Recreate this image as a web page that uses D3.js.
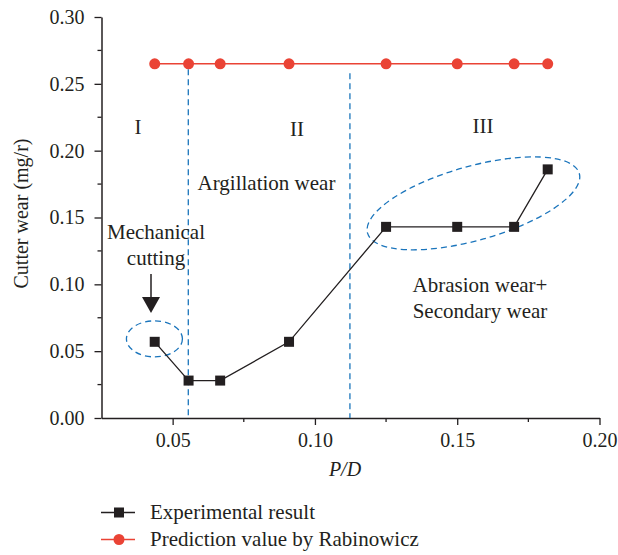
<!DOCTYPE html>
<html>
<head>
<meta charset="utf-8">
<script src="https://cdn.jsdelivr.net/npm/d3@7"></script>
<style>
  body { margin: 0; background: #fff; }
  text { font-family: 'Liberation Serif', 'DejaVu Serif', serif; fill: #231f20; }
</style>
</head>
<body>
<div id="chart"></div>
<script>
// data
const pdValues = [0.0437, 0.0556, 0.0667, 0.0909, 0.125, 0.15, 0.17, 0.1818];
const experimental = [0.057, 0.028, 0.028, 0.057, 0.143, 0.143, 0.143, 0.186];
const rabinowicz = [0.265, 0.265, 0.265, 0.265, 0.265, 0.265, 0.265, 0.265];
const xTicks = [0.05, 0.10, 0.15, 0.20];
const xMinor = [0.075, 0.125, 0.175];
const yTicks = [0.00, 0.05, 0.10, 0.15, 0.20, 0.25, 0.30];
const yMinor = [0.025, 0.075, 0.125, 0.175, 0.225, 0.275];
const stageBounds = [0.0555, 0.1123];

const width = 618;
const height = 555;

const svg = d3.select('#chart')
  .append('svg')
    .attr('width', width)
    .attr('height', height);

const xScale = d3.scaleLinear()
  .domain([0.025, 0.2])
  .range([101.5, 599.5]);

const yScale = d3.scaleLinear()
  .domain([0, 0.3])
  .range([418, 17]);

const ink = '#231f20';
const red = '#ea4335';
const blue = '#1b75bc';

//
// Axes
//
const xAxis = d3.axisBottom(xScale)
  .tickValues(xTicks)
  .tickSize(7)
  .tickSizeOuter(0)
  .tickPadding(8)
  .tickFormat(d3.format('.2f'));

const yAxis = d3.axisLeft(yScale)
  .tickValues(yTicks)
  .tickSize(7)
  .tickSizeOuter(0)
  .tickPadding(10)
  .tickFormat(d3.format('.2f'));

const gx = svg.append('g')
  .attr('class', 'x axis')
  .attr('transform', `translate(0, ${yScale(0)})`)
  .call(xAxis);

const gy = svg.append('g')
  .attr('class', 'y axis')
  .attr('transform', `translate(${xScale(0.025)}, 0)`)
  .call(yAxis);

[gx, gy].forEach(g => {
  g.select('.domain').attr('stroke', ink).attr('stroke-width', 1.5);
  g.selectAll('.tick line').attr('stroke', ink).attr('stroke-width', 1.3);
  g.selectAll('.tick text')
    .style('font-family', "'Liberation Serif', serif")
    .style('font-size', '20px')
    .attr('fill', ink);
});

// minor ticks
svg.append('g').selectAll('line')
  .data(xMinor)
  .enter().append('line')
    .attr('x1', d => xScale(d)).attr('x2', d => xScale(d))
    .attr('y1', yScale(0)).attr('y2', yScale(0) + 4)
    .attr('stroke', ink).attr('stroke-width', 1.3);

svg.append('g').selectAll('line')
  .data(yMinor)
  .enter().append('line')
    .attr('x1', xScale(0.025)).attr('x2', xScale(0.025) - 4)
    .attr('y1', d => yScale(d)).attr('y2', d => yScale(d))
    .attr('stroke', ink).attr('stroke-width', 1.3);

// axis titles
svg.append('text')
  .attr('text-anchor', 'middle')
  .attr('transform', `translate(28, 213.5) rotate(-90)`)
  .style('font-size', '20px')
  .text('Cutter wear (mg/r)');

svg.append('text')
  .attr('text-anchor', 'middle')
  .attr('x', 345)
  .attr('y', 476)
  .style('font-size', '20px')
  .style('font-style', 'italic')
  .text('P/D');

//
// Stage boundaries
//
svg.append('g').selectAll('line')
  .data(stageBounds)
  .enter().append('line')
    .attr('x1', d => xScale(d)).attr('x2', d => xScale(d))
    .attr('y1', (d, i) => yScale(i === 0 ? 0.261 : 0.258))
    .attr('y2', yScale(0))
    .attr('stroke', blue)
    .attr('stroke-width', 1.3)
    .attr('stroke-dasharray', '6,4');

//
// Ellipses
//
svg.append('ellipse')
  .attr('cx', xScale(0.0436))
  .attr('cy', yScale(0.0592))
  .attr('rx', 28)
  .attr('ry', 18)
  .attr('fill', 'none')
  .attr('stroke', blue)
  .attr('stroke-width', 1.3)
  .attr('stroke-dasharray', '6,4');

svg.append('ellipse')
  .attr('transform', `translate(${xScale(0.1557)}, ${yScale(0.1606)}) rotate(-15.75)`)
  .attr('rx', 110)
  .attr('ry', 37)
  .attr('fill', 'none')
  .attr('stroke', blue)
  .attr('stroke-width', 1.3)
  .attr('stroke-dasharray', '6,4');

//
// Series
//
const line = d3.line()
  .x(d => xScale(d[0]))
  .y(d => yScale(d[1]));

const redData = pdValues.map((d, i) => [d, rabinowicz[i]]);
const blackData = pdValues.map((d, i) => [d, experimental[i]]);

svg.append('path')
  .datum(redData)
  .attr('d', line)
  .attr('fill', 'none')
  .attr('stroke', red)
  .attr('stroke-width', 1.5);

svg.append('g').selectAll('circle')
  .data(redData)
  .enter().append('circle')
    .attr('cx', d => xScale(d[0]))
    .attr('cy', d => yScale(d[1]))
    .attr('r', 5.5)
    .attr('fill', red);

svg.append('path')
  .datum(blackData)
  .attr('d', line)
  .attr('fill', 'none')
  .attr('stroke', ink)
  .attr('stroke-width', 1.3);

svg.append('g').selectAll('rect')
  .data(blackData)
  .enter().append('rect')
    .attr('x', d => xScale(d[0]) - 5)
    .attr('y', d => yScale(d[1]) - 5)
    .attr('width', 10)
    .attr('height', 10)
    .attr('fill', ink);

//
// Labels
//
const labels = [
  { t: 'I', x: 138, y: 134 },
  { t: 'II', x: 297, y: 136 },
  { t: 'III', x: 483, y: 133 },
  { t: 'Argillation wear', x: 266.5, y: 190 },
  { t: 'Mechanical', x: 156, y: 239 },
  { t: 'cutting', x: 156, y: 265 },
  { t: 'Abrasion wear+', x: 480, y: 292 },
  { t: 'Secondary wear', x: 480, y: 318 }
];

svg.append('g').selectAll('text')
  .data(labels)
  .enter().append('text')
    .attr('x', d => d.x)
    .attr('y', d => d.y)
    .attr('text-anchor', 'middle')
    .style('font-size', '21px')
    .text(d => d.t);

// arrow
svg.append('line')
  .attr('x1', 151).attr('x2', 151)
  .attr('y1', 274).attr('y2', 300)
  .attr('stroke', ink).attr('stroke-width', 1.5);
svg.append('path')
  .attr('d', 'M142,297 L160,297 L151,313 Z')
  .attr('fill', ink);

//
// Legend
//
const legend = [
  { t: 'Experimental result', c: ink, shape: 'rect', y: 512.5 },
  { t: 'Prediction value by Rabinowicz', c: red, shape: 'circle', y: 539.5 }
];

const lg = svg.append('g').selectAll('g')
  .data(legend)
  .enter().append('g');

lg.append('line')
  .attr('x1', 101).attr('x2', 135)
  .attr('y1', d => d.y).attr('y2', d => d.y)
  .attr('stroke', d => d.c)
  .attr('stroke-width', 1.5);

lg.filter(d => d.shape === 'rect').append('rect')
  .attr('x', 114).attr('y', d => d.y - 5)
  .attr('width', 10).attr('height', 10)
  .attr('fill', d => d.c);

lg.filter(d => d.shape === 'circle').append('circle')
  .attr('cx', 119).attr('cy', d => d.y)
  .attr('r', 5.5)
  .attr('fill', d => d.c);

lg.append('text')
  .attr('x', 150)
  .attr('y', d => d.y + 6)
  .style('font-size', '21px')
  .text(d => d.t);
</script>
</body>
</html>
